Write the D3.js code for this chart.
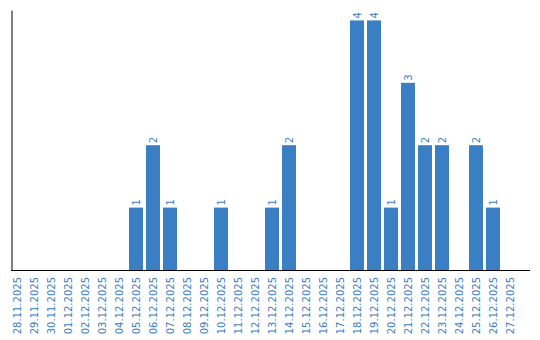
<!DOCTYPE html>
<html><head><meta charset="utf-8">
<script src="https://cdn.jsdelivr.net/npm/d3@7"></script>
<style>body{margin:0;background:#fff}svg{display:block}</style>
</head><body>
<svg id="c" width="540" height="340"></svg>
<script>
const dates = ["28.11.2025","29.11.2025","30.11.2025","01.12.2025","02.12.2025","03.12.2025","04.12.2025","05.12.2025","06.12.2025","07.12.2025","08.12.2025","09.12.2025","10.12.2025","11.12.2025","12.12.2025","13.12.2025","14.12.2025","15.12.2025","16.12.2025","17.12.2025","18.12.2025","19.12.2025","20.12.2025","21.12.2025","22.12.2025","23.12.2025","24.12.2025","25.12.2025","26.12.2025","27.12.2025"];
const counts = [0,0,0,0,0,0,0,1,2,1,0,0,1,0,0,1,2,0,0,0,4,4,1,3,2,2,0,2,1,0];
const color = "#3a7ec3";
const font = "DejaVu Sans";

const svg = d3.select("#c");
const x = d3.scaleBand().domain(dates).range([10, 517]).paddingInner(3/17).paddingOuter(0);
const y = d3.scaleLinear().domain([0, 4/0.96]).range([270, 10]);

const data = dates.map((d,i)=>({d, v:counts[i]}));

svg.selectAll("rect.bar").data(data.filter(e=>e.v>0)).enter().append("rect")
  .attr("class","bar")
  .attr("x", e=>x(e.d)).attr("width", x.bandwidth())
  .attr("y", e=>y(e.v)).attr("height", e=>y(0)-y(e.v))
  .attr("fill", color);

svg.selectAll("text.val").data(data.filter(e=>e.v>0)).enter().append("text")
  .attr("class","val")
  .attr("transform", e=>`translate(${x(e.d)+x.bandwidth()/2+3.5},${y(e.v)-2}) rotate(-90)`)
  .attr("font-family", font).attr("font-size", 10).attr("fill", color)
  .text(e=>e.v);

// x axis
const xa = svg.append("g").attr("transform","translate(0,270)")
  .call(d3.axisBottom(x).tickSize(0).tickSizeOuter(0));
xa.select(".domain").remove();
xa.selectAll("text")
  .attr("font-family", font).attr("font-size", 10).attr("fill", color)
  .attr("text-anchor","end")
  .attr("transform","rotate(-90)")
  .attr("x", -7).attr("y", 0).attr("dy","0.35em");
svg.append("line").attr("x1",11).attr("x2",530).attr("y1",270.5).attr("y2",270.5)
  .attr("stroke","#000").attr("stroke-width",1);

// y axis
const ya = svg.append("g").attr("transform","translate(11.5,0)")
  .call(d3.axisLeft(y).ticks(0).tickSize(0).tickSizeOuter(0));
ya.selectAll(".tick").remove();
ya.select(".domain").attr("stroke","#000");
</script>
</body></html>
